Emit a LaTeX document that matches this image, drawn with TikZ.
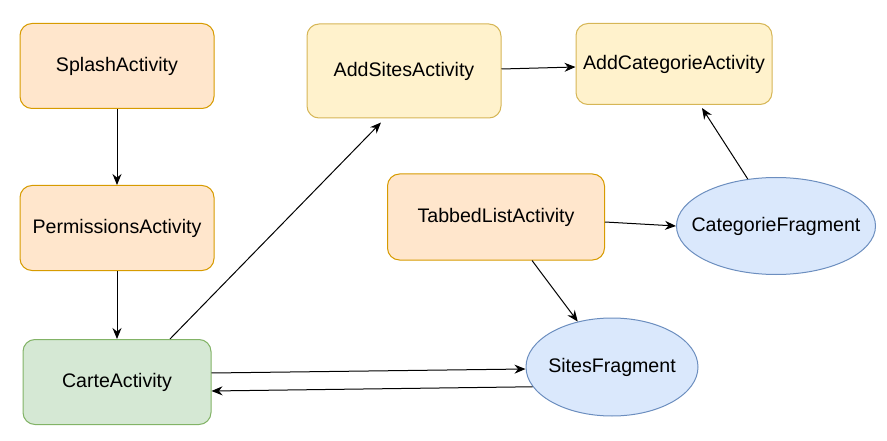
\documentclass[tikz,border=0pt]{standalone}
\usepackage{fontspec}
\setmainfont{Liberation Sans}
\usetikzlibrary{arrows.meta,shapes.geometric}
\definecolor{orfill}{HTML}{FFE6CC}\definecolor{ordraw}{HTML}{D79B00}
\definecolor{yefill}{HTML}{FFF2CC}\definecolor{yedraw}{HTML}{D6B656}
\definecolor{grfill}{HTML}{D5E8D4}\definecolor{grdraw}{HTML}{82B366}
\definecolor{blfill}{HTML}{DAE8FC}\definecolor{bldraw}{HTML}{6C8EBF}
\begin{document}
\begin{tikzpicture}[x=1pt,y=-1pt,
  every node/.style={font=\fontsize{19.6}{23}\selectfont, inner sep=0pt},
  box/.style={rectangle, rounded corners=12pt, line width=1pt, minimum width=#1},
  box/.default=194pt,
  orbox/.style={box=#1, fill=orfill, draw=ordraw}, orbox/.default=194pt,
  yebox/.style={box=#1, fill=yefill, draw=yedraw}, yebox/.default=194pt,
  grbox/.style={box=#1, fill=grfill, draw=grdraw}, grbox/.default=194pt,
  frag/.style={ellipse, fill=blfill, draw=bldraw, line width=1pt},
  lbl/.style={},
  conn/.style={draw, line width=1pt, -{Stealth[length=11pt,width=9pt]}}]
\useasboundingbox (0,0) rectangle (887,441);
\node[orbox, minimum height=85pt] (splash) at (117,66) {SplashActivity};
\node[orbox, minimum height=85pt] (perm) at (117,228) {PermissionsActivity};
\node[grbox=188pt, minimum height=85pt] (carte) at (117,382) {CarteActivity};
\node[yebox, minimum height=94pt] (adds) at (404,71) {AddSitesActivity};
\node[yebox=196pt, minimum height=81pt] (addc) at (674,64) {AddCategorieActivity};
\node[orbox=217pt, minimum height=86pt] (tabbed) at (496,217) {TabbedListActivity};
\node[frag, minimum width=199pt, minimum height=97pt] (catf) at (776,226) {};
\node[lbl] (catft) at (catf.center) {CategorieFragment};
\node[frag, minimum width=172pt, minimum height=98pt] (sitef) at (612,367) {};
\node[lbl] (siteft) at (sitef.center) {SitesFragment};
\draw[conn] (splash.south) -- (perm.north);
\draw[conn] (perm.south) -- (carte.north);
\draw[conn] ([xshift=53pt]carte.north) -- ([xshift=-23pt,yshift=-4pt]adds.south);
\draw[conn] ([yshift=2pt]adds.east) -- ([yshift=-3pt]addc.west);
\draw[conn] (catf.121) -- ([xshift=28pt,yshift=-3pt]addc.south);
\draw[conn] ([yshift=-5pt]tabbed.east) -- (catf.west);
\draw[conn] ([xshift=36pt]tabbed.south) -- (sitef.127);
\draw[conn] ([yshift=9pt]carte.east) -- ([yshift=-2pt]sitef.west);
\draw[conn] (sitef.194) -- ([yshift=-9pt]carte.east);
\end{tikzpicture}
\end{document}
